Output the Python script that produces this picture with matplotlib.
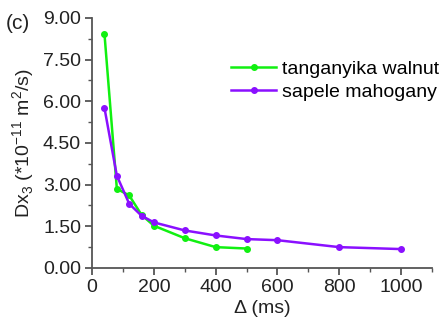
import matplotlib
matplotlib.use('agg')
import matplotlib.pyplot as plt
from matplotlib.ticker import MultipleLocator

plt.rcParams['font.family'] = ['Liberation Sans', 'DejaVu Sans']
plt.rcParams['mathtext.fontset'] = 'custom'
plt.rcParams['mathtext.rm'] = 'Liberation Sans'

# diffusion coefficient vs. diffusion time
walnut_t = [40, 80, 120, 160, 200, 300, 400, 500]
walnut_d = [8.41, 2.85, 2.61, 1.91, 1.52, 1.07, 0.75, 0.70]
sapele_t = [40, 80, 120, 160, 200, 300, 400, 500, 600, 800, 1000]
sapele_d = [5.75, 3.32, 2.31, 1.88, 1.64, 1.35, 1.17, 1.04, 1.00, 0.75, 0.68]

txt = '#222222'

fig = plt.figure(figsize=(4.43, 3.26), dpi=100)
ax = fig.add_axes([0.208, 0.178, 0.767, 0.767])

ax.plot(walnut_t, walnut_d, '-o', color='#11f011', lw=1.8, ms=4, label='tanganyika walnut')
ax.plot(sapele_t, sapele_d, '-o', color='#8a10ff', lw=1.8, ms=4, label='sapele mahogany')

ax.set_xlim(0, 1100)
ax.set_ylim(0, 9)
ax.xaxis.set_major_locator(MultipleLocator(200))
ax.xaxis.set_minor_locator(MultipleLocator(100))
ax.yaxis.set_major_locator(MultipleLocator(1.5))
ax.yaxis.set_minor_locator(MultipleLocator(0.75))
ax.yaxis.set_major_formatter(lambda v, p: '%.2f' % v)

for s in ('top', 'right'):
    ax.spines[s].set_visible(False)
for s in ('left', 'bottom'):
    ax.spines[s].set_color('#555555')
    ax.spines[s].set_linewidth(1.3)
ax.tick_params(which='major', direction='out', length=5, width=1.3, color='#555555',
               labelsize=14, labelcolor=txt, pad=3)
ax.tick_params(which='minor', direction='out', length=3, width=1.0, color='#555555')

ax.set_xlabel('Δ (ms)', fontsize=14, color=txt, labelpad=3)
ax.set_ylabel('Dx$_3$ (*10$^{-11}$ m$^2$/s)', fontsize=14, color=txt, labelpad=4)

ax.legend(loc='upper left', bbox_to_anchor=(0.41, 0.83), frameon=False, fontsize=14,
          handlelength=2.3, handletextpad=0.3, labelspacing=0.25,
          borderpad=0, borderaxespad=0)

fig.text(0.012, 0.91, '(c)', fontsize=15, color=txt)

plt.savefig('out.png', dpi=100)
